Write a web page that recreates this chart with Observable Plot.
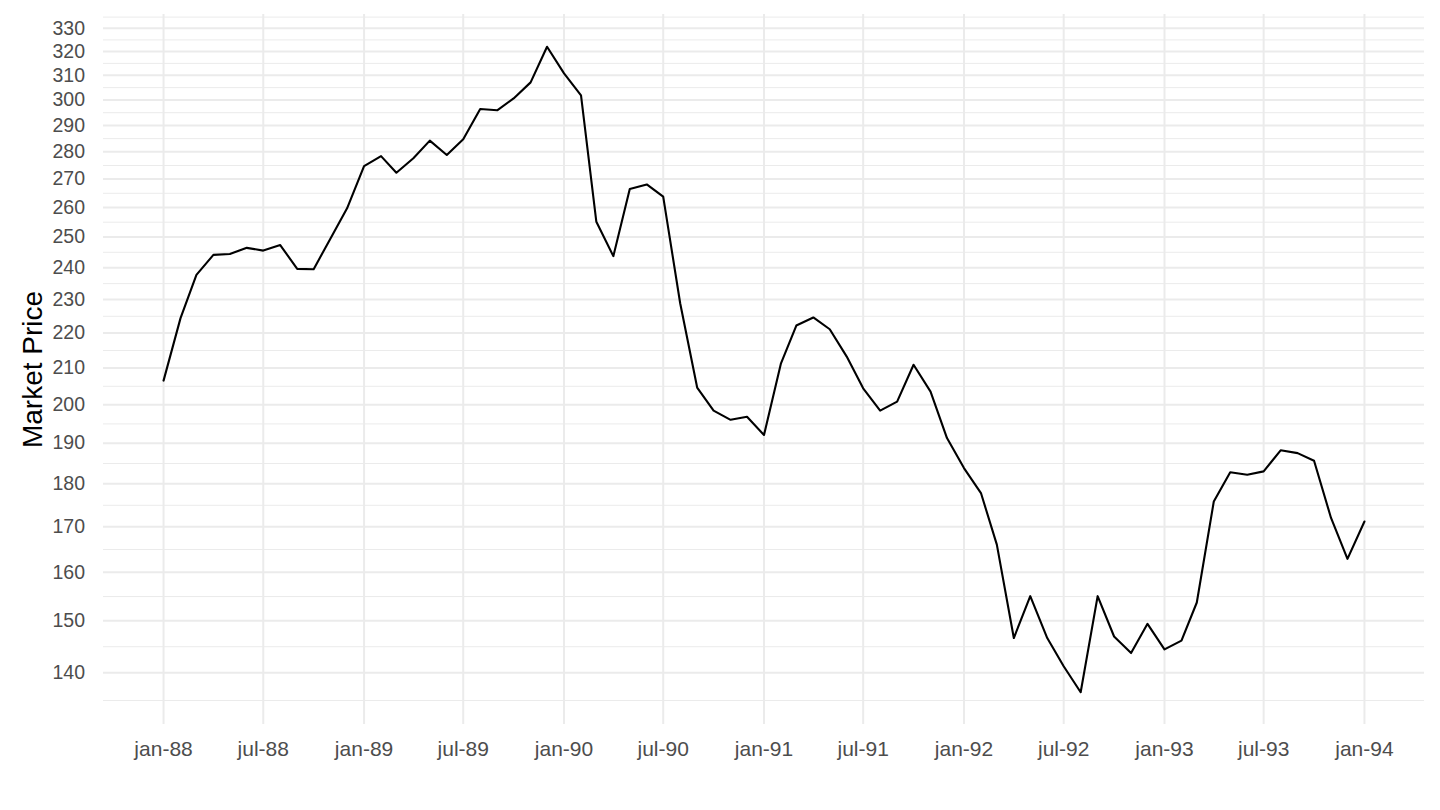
<!DOCTYPE html>
<html>
<head>
<meta charset="utf-8">
<script src="https://cdn.jsdelivr.net/npm/d3@7"></script>
<script src="https://cdn.jsdelivr.net/npm/@observablehq/plot@0.6"></script>
<style>
  html, body { margin: 0; padding: 0; background: #ffffff; overflow: hidden; }
  #chart svg { display: block; }
</style>
</head>
<body>
<div id="chart"></div>
<script>
// Monthly observations, jan-88 .. jan-94
const startMonth = "1988-01-01";
const endMonth = "1994-01-01";
const price = [
  // 1988
  206.5, 224.4, 237.7, 244.1, 244.4, 246.4, 245.5, 247.3, 239.6, 239.5, 249.6, 259.7,
  // 1989
  274.7, 278.4, 272.3, 277.6, 284.2, 278.8, 284.7, 296.4, 295.9, 300.6, 307.1, 322.0,
  // 1990
  310.8, 301.8, 255.1, 243.7, 266.5, 268.1, 263.8, 228.9, 204.6, 198.4, 196.0, 196.8,
  // 1991
  192.1, 211.3, 222.2, 224.6, 221.1, 213.2, 204.4, 198.4, 200.8, 210.9, 203.5, 191.3,
  // 1992
  183.8, 177.8, 166.0, 146.6, 155.0, 146.6, 141.2, 136.4, 155.0, 146.9, 143.7, 149.4,
  // 1993
  144.4, 146.1, 153.7, 175.8, 182.8, 182.2, 183.0, 188.2, 187.5, 185.6, 172.0, 162.9,
  // 1994
  171.2
];

const xTickDates = ["1988-01-01","1988-07-01","1989-01-01","1989-07-01","1990-01-01","1990-07-01",
  "1991-01-01","1991-07-01","1992-01-01","1992-07-01","1993-01-01","1993-07-01","1994-01-01"];
const xTickLabels = ["jan-88","jul-88","jan-89","jul-89","jan-90","jul-90",
  "jan-91","jul-91","jan-92","jul-92","jan-93","jul-93","jan-94"];
const yTicks = [140,150,160,170,180,190,200,210,220,230,240,250,260,270,280,290,300,310,320,330];
const yLabel = "Market Price";

// Build table
const dates = d3.utcMonth.range(new Date(startMonth), d3.utcMonth.offset(new Date(endMonth), 1));
const rows = dates.map((d, i) => ({date: d, price: price[i]}));

// Scale domains with ggplot-like 5% expansion
const [d0, d1] = d3.extent(dates);
const span = d1 - d0;
const xDomain = [new Date(+d0 - 0.05 * span), new Date(+d1 + 0.05 * span)];
const [p0, p1] = d3.extent(price);
const lspan = Math.log(p1) - Math.log(p0);
const yDomain = [Math.exp(Math.log(p0) - 0.05 * lspan), Math.exp(Math.log(p1) + 0.05 * lspan)];

// Minor grid lines at log-midpoints between major breaks (including one beyond each end)
const step = yTicks[1] - yTicks[0];
const ext = [yTicks[0] - step, ...yTicks, yTicks[yTicks.length - 1] + step];
const yMinor = d3.pairs(ext).map(([a, b]) => Math.sqrt(a * b));

const tickDates = xTickDates.map(s => new Date(s));
const labelMap = new Map(tickDates.map((d, i) => [+d, xTickLabels[i]]));

const chart = Plot.plot({
  width: 1440,
  height: 810,
  marginLeft: 103,
  marginRight: 16,
  marginTop: 14,
  marginBottom: 86,
  style: {fontFamily: "'Liberation Sans', Arial, Helvetica, sans-serif", background: "#ffffff", color: "#4d4d4d"},
  x: {type: "utc", domain: xDomain},
  y: {type: "log", domain: yDomain},
  marks: [
    Plot.ruleY(yMinor, {stroke: "#ebebeb", strokeWidth: 1}),
    Plot.ruleY(yTicks, {stroke: "#ebebeb", strokeWidth: 2}),
    Plot.ruleX(tickDates, {stroke: "#ebebeb", strokeWidth: 2}),
    Plot.axisX({ticks: tickDates, tickFormat: d => labelMap.get(+d), tickSize: 0, tickPadding: 17,
      fontSize: 21, fill: "#4d4d4d", label: null}),
    Plot.axisY({ticks: yTicks, tickFormat: d => String(d), tickSize: 0, tickPadding: 18.5,
      fontSize: 19.5, fill: "#4d4d4d", label: null}),
    Plot.text([yLabel], {text: d => d, frameAnchor: "left", rotate: -90, dx: -81, lineAnchor: "top",
      textAnchor: "middle", fontSize: 28, fill: "#000000"}),
    Plot.line(rows, {x: "date", y: "price", stroke: "#000000", strokeWidth: 2.1})
  ]
});
document.getElementById("chart").appendChild(chart);
</script>
</body>
</html>
